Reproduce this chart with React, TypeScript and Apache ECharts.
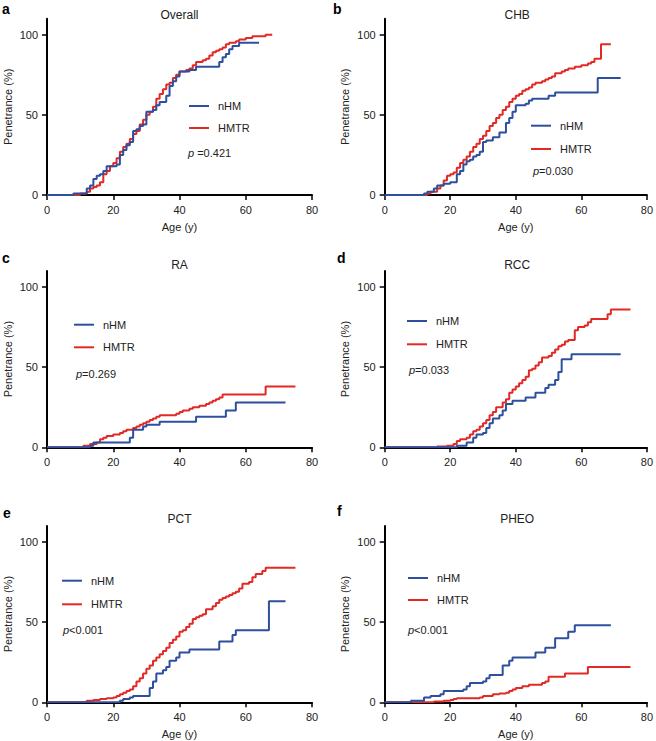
import React, { useEffect, useRef } from "react";
import * as echarts from "echarts";

// ---- Data: [age, penetrance %] step points ----
const overallNHM = [[0,0],[8,1],[12,4],[13,6],[14,10],[15,12],[16,13],[17,15],[18,18],[21,19],[22,25],[23,28],[24,31],[25,33],[26,40],[27,41],[28,43],[29,44],[30,52],[32,53],[33,56],[34,58],[36,62],[37,68],[38,71],[39,74],[40,77],[43,78],[45,80],[52,83],[53,86],[54,88],[55,91],[56,93],[58,95],[64,95]];
const overallHMTR = [[0,0],[10,1],[12,2],[13,4],[14,5],[15,6],[16,8],[17,13],[18,15],[19,18],[20,20],[21,23],[22,27],[23,30],[24,32],[25,35],[26,38],[27,40],[28,44],[29,47],[30,50],[31,52],[32,55],[33,60],[34,63],[35,66],[36,69],[37,70],[38,73],[39,75],[40,77],[42,78],[43,79],[44,81],[45,83],[47,84],[48,85],[49,87],[50,89],[51,90],[52,91],[53,92],[54,94],[55,95],[57,96],[58,97],[60,98],[62,99],[66,100],[68,100]];
const chbNHM = [[0,0],[12,1],[13,2],[15,4],[16,6],[18,7],[20,8],[22,13],[23,15],[24,19],[25,21],[26,22],[27,24],[28,25],[29,27],[30,33],[31,34],[33,36],[35,39],[37,45],[38,48],[39,52],[40,56],[43,57],[44,59],[45,60],[50,62],[52,64],[65,73],[72,73]];
const chbHMTR = [[0,0],[13,1],[14,2],[16,4],[17,6],[18,9],[19,12],[20,13],[21,14],[22,17],[23,20],[24,22],[25,24],[26,27],[27,30],[28,32],[29,35],[30,37],[31,40],[32,43],[33,45],[34,48],[35,50],[36,53],[37,55],[38,58],[39,60],[40,62],[41,63],[42,65],[43,66],[44,67],[45,69],[46,70],[48,71],[49,72],[50,73],[51,74],[52,76],[54,77],[55,78],[56,79],[58,80],[60,81],[62,82],[63,83],[64,85],[66,94],[69,94]];
const raNHM = [[0,0],[13,1],[14,3],[25,6],[26,11],[29,13],[30,14],[34,16],[45,19],[54,23],[57,28],[72,28]];
const raHMTR = [[0,0],[11,1],[13,2],[15,3],[16,5],[17,6],[18,7],[20,8],[22,9],[23,10],[24,11],[26,12],[27,13],[28,14],[29,15],[30,16],[31,17],[32,18],[33,19],[34,20],[39,21],[40,22],[41,23],[43,24],[44,25],[46,26],[48,27],[49,28],[50,29],[51,30],[52,31],[53,33],[66,38],[75,38]];
const rccNHM = [[0,0],[22,1],[25,3],[27,6],[28,8],[30,9],[31,12],[32,15],[33,18],[35,20],[36,23],[37,27],[39,29],[43,31],[46,34],[49,37],[50,39],[52,42],[53,47],[54,55],[57,58],[72,58]];
const rccHMTR = [[0,0],[16,0.5],[19,1],[21,2],[22,4],[23,5],[25,6],[26,8],[27,10],[28,11],[29,13],[30,15],[31,17],[32,20],[33,22],[34,25],[36,28],[37,30],[38,34],[39,36],[40,38],[41,40],[42,42],[43,44],[44,48],[45,49],[46,51],[47,53],[48,56],[50,57],[51,59],[52,61],[53,63],[54,64],[55,66],[56,67],[58,73],[59,75],[61,76],[62,78],[63,80],[68,83],[69,86],[75,86]];
const pctNHM = [[0,0],[22,1],[23,2],[25,3],[26,4],[31,9],[32,13],[33,18],[35,20],[36,22],[37,26],[39,28],[40,31],[43,33],[52,38],[56,42],[57,45],[67,63],[72,63]];
const pctHMTR = [[0,0],[12,1],[14,1.5],[16,2],[18,2.5],[20,3],[21,4],[22,5],[23,6],[24,7],[25,8],[26,10],[27,13],[28,15],[29,18],[30,21],[31,23],[32,26],[33,28],[34,30],[35,32],[36,34],[37,37],[38,39],[39,41],[40,44],[41,45],[42,47],[43,49],[44,52],[45,53],[46,54],[47,55],[48,58],[50,60],[51,62],[52,64],[53,65],[54,66],[55,67],[56,68],[57,69],[58,71],[59,74],[61,75],[62,78],[63,80],[65,82],[66,84],[75,84]];
const pheoNHM = [[0,0],[8,1],[12,3],[14,4],[17,5],[18,7],[24,8],[25,10],[26,12],[30,13],[31,15],[32,17],[36,23],[38,26],[39,28],[46,31],[49,34],[52,40],[56,44],[58,48],[69,48]];
const pheoHMTR = [[0,0],[15,0.5],[18,1],[20,1.5],[21,2],[22,2.5],[29,3],[30,4],[33,5],[35,5.5],[37,6],[38,7],[39,8],[40,9],[42,10],[44,11],[48,12],[49,13],[50,16],[55,18],[62,22],[75,22]];

const panelLetters = ["a", "b", "c", "d", "e", "f"];
const panelTitles = ["Overall", "CHB", "RA", "RCC", "PCT", "PHEO"];
const pValues = [" =0.421", "=0.030", "=0.269", "=0.033", "<0.001", "<0.001"];
const seriesNames = ["nHM", "HMTR"];
const xAxisNames = ["Age (y)", "Age (y)", "", "", "Age (y)", "Age (y)"];
const xTicks = [0, 20, 40, 60, 80];
const yTicks = [0, 50, 100];

const nhmData = [overallNHM, chbNHM, raNHM, rccNHM, pctNHM, pheoNHM];
const hmtrData = [overallHMTR, chbHMTR, raHMTR, rccHMTR, pctHMTR, pheoHMTR];

// ---- Layout ----
const BLUE = "#2d4f9e";
const RED = "#e12a26";
const TEXT = "#222";
const FONT = "Liberation Sans, Arial, sans-serif";
const colLeft = [47, 384.7];
const gridW = 265;
const rowBottom = [195, 447.3, 702.3];
const gridH = 176.3;
// legend positions: [lineX, nhmY, hmtrY, pX, pY]
const legendPos = [
  [189, 106, 128, 188, 153],
  [531, 125.7, 149, 533, 170.7],
  [74, 324.7, 347.3, 76, 374],
  [407, 321, 344.3, 409, 370],
  [62, 580.7, 604.3, 63, 630],
  [408, 578, 600, 408, 630],
];
const letterPos = [[2, 9], [333, 9], [2, 258], [337, 258], [3, 513], [337, 511]];
const titleY = [15, 15, 265, 265, 519, 519];

export default function App() {
  const ref = useRef<HTMLDivElement>(null);
  useEffect(() => {
    if (!ref.current) return;
    const chart = echarts.init(ref.current, null, { renderer: "svg" });
    const grids: any[] = [];
    const xAxes: any[] = [];
    const yAxes: any[] = [];
    const series: any[] = [];
    const graphics: any[] = [];
    for (let i = 0; i < 6; i++) {
      const col = i % 2;
      const row = Math.floor(i / 2);
      const left = colLeft[col];
      const top = rowBottom[row] - gridH;
      grids.push({ left, top, width: gridW, height: gridH, containLabel: false });
      xAxes.push({
        type: "value", gridIndex: i, min: 0, max: 80, interval: 20,
        name: xAxisNames[i], nameLocation: "middle", nameGap: 26,
        nameTextStyle: { fontFamily: FONT, fontSize: 11, color: TEXT },
        axisLine: { show: true, lineStyle: { color: "#000", width: 2 } },
        axisTick: { show: true, length: 5, lineStyle: { color: "#000", width: 1.5 }, customValues: xTicks },
        axisLabel: { fontFamily: FONT, fontSize: 11, color: TEXT, margin: 9, customValues: xTicks },
        splitLine: { show: false },
      });
      yAxes.push({
        type: "value", gridIndex: i, min: 0, max: 110,
        name: "Penetrance (%)", nameLocation: "middle", nameGap: 34,
        nameTextStyle: { fontFamily: FONT, fontSize: 11, color: TEXT },
        axisLine: { show: true, lineStyle: { color: "#000", width: 2 } },
        axisTick: { show: true, length: 5, lineStyle: { color: "#000", width: 1.5 }, customValues: yTicks },
        axisLabel: { fontFamily: FONT, fontSize: 11, color: TEXT, margin: 9, customValues: yTicks },
        splitLine: { show: false },
      });
      const mk = (name: string, data: number[][], color: string, z: number) => ({
        type: "line", name, xAxisIndex: i, yAxisIndex: i, data, step: "end",
        showSymbol: false, symbol: "none", z,
        lineStyle: { color, width: 2 }, itemStyle: { color },
      });
      series.push(mk(seriesNames[1], hmtrData[i], RED, 2));
      series.push(mk(seriesNames[0], nhmData[i], BLUE, 3));

      const [lx, y1, y2, px, py] = legendPos[i];
      graphics.push(
        { type: "line", shape: { x1: lx, y1, x2: lx + 20, y2: y1 }, style: { stroke: BLUE, lineWidth: 2 } },
        { type: "line", shape: { x1: lx, y1: y2, x2: lx + 20, y2 }, style: { stroke: RED, lineWidth: 2 } },
        { type: "text", x: lx + 29, y: y1, style: { text: seriesNames[0], font: `11px ${FONT}`, fill: TEXT, verticalAlign: "middle" } },
        { type: "text", x: lx + 29, y: y2, style: { text: seriesNames[1], font: `11px ${FONT}`, fill: TEXT, verticalAlign: "middle" } },
        {
          type: "text", x: px, y: py,
          style: {
            text: `{i|p}{n|${pValues[i]}}`, verticalAlign: "middle",
            rich: {
              i: { fontFamily: FONT, fontSize: 11, fontStyle: "italic", fill: TEXT },
              n: { fontFamily: FONT, fontSize: 11, fill: TEXT },
            },
          },
        },
        {
          type: "text", x: left + gridW / 2, y: titleY[i],
          style: { text: panelTitles[i], font: `12px ${FONT}`, fill: TEXT, align: "center", verticalAlign: "middle" },
        },
        {
          type: "text", x: letterPos[i][0], y: letterPos[i][1],
          style: { text: panelLetters[i], font: `bold 14px ${FONT}`, fill: "#000", verticalAlign: "middle" },
        }
      );
    }
    chart.setOption({
      animation: false,
      backgroundColor: "#fff",
      grid: grids,
      xAxis: xAxes,
      yAxis: yAxes,
      series,
      graphic: graphics,
    });
    return () => chart.dispose();
  }, []);
  return <div ref={ref} style={{ position: "absolute", left: 0, top: 0, width: 656, height: 741 }} />;
}
